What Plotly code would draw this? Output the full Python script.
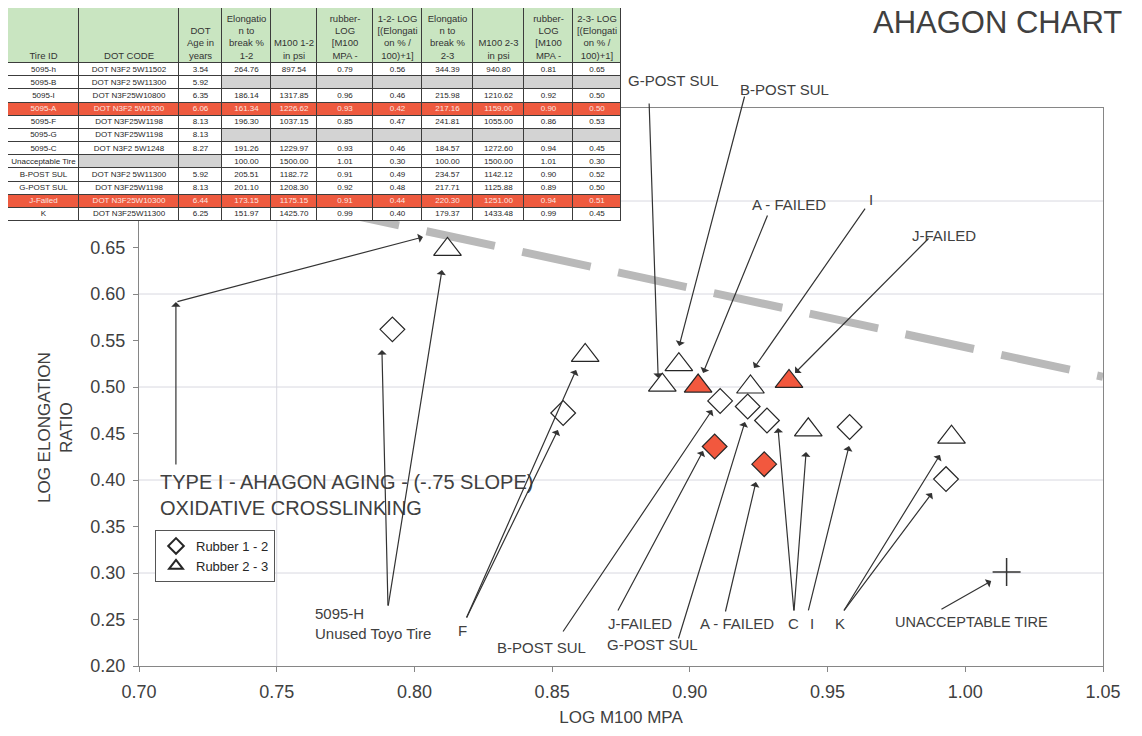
import plotly.graph_objects as go

# the page body adds an 8px margin, so the figure is drawn 8px in from the corner
OFF = 8
W, H = 1142 - OFF, 736 - OFF

# ---- table printed on the sheet ----
header = ["Tire ID", "DOT CODE", "DOT<br>Age in<br>years",
          "Elongatio<br>n to<br>break %<br>1-2", "M100 1-2<br>in psi",
          "rubber-<br>LOG<br>[M100<br>MPA -", "1-2- LOG<br>[(Elongati<br>on % /<br>100)+1]",
          "Elongatio<br>n to<br>break %<br>2-3", "M100 2-3<br>in psi",
          "rubber-<br>LOG<br>[M100<br>MPA -", "2-3- LOG<br>[(Elongati<br>on % /<br>100)+1]"]
tire_id = ["5095-h", "5095-B", "5095-I", "5095-A", "5095-F", "5095-G", "5095-C",
           "Unacceptable Tire", "B-POST SUL", "G-POST SUL", "J-Failed", "K"]
dot_code = ["DOT N3F2 5W11502", "DOT N3F2 5W11300", "DOT N3F25W10800", "DOT N3F2 5W1200",
            "DOT N3F25W1198", "DOT N3F25W1198", "DOT N3F2 5W1248", "",
            "DOT N3F2 5W11300", "DOT N3F25W1198", "DOT N3F25W10300", "DOT N3F25W11300"]
age_years = ["3.54", "5.92", "6.35", "6.06", "8.13", "8.13", "8.27", "", "5.92", "8.13", "6.44", "6.25"]
elong_12 = ["264.76", "", "186.14", "161.34", "196.30", "", "191.26", "100.00", "205.51", "201.10", "173.15", "151.97"]
m100_12 = ["897.54", "", "1317.85", "1226.62", "1037.15", "", "1229.97", "1500.00", "1182.72", "1208.30", "1175.15", "1425.70"]
logm_12 = ["0.79", "", "0.96", "0.93", "0.85", "", "0.93", "1.01", "0.91", "0.92", "0.91", "0.99"]
loge_12 = ["0.56", "", "0.46", "0.42", "0.47", "", "0.46", "0.30", "0.49", "0.48", "0.44", "0.40"]
elong_23 = ["344.39", "", "215.98", "217.16", "241.81", "", "184.57", "100.00", "234.57", "217.71", "220.30", "179.37"]
m100_23 = ["940.80", "", "1210.62", "1159.00", "1055.00", "", "1272.60", "1500.00", "1142.12", "1125.88", "1251.00", "1433.48"]
logm_23 = ["0.81", "", "0.92", "0.90", "0.86", "", "0.94", "1.01", "0.90", "0.89", "0.94", "0.99"]
loge_23 = ["0.65", "", "0.50", "0.50", "0.53", "", "0.45", "0.30", "0.52", "0.50", "0.51", "0.45"]
failed_rows = ["5095-A", "J-Failed"]

# ---- plotted points: H, I, A, F, C, B-POST, G-POST, J, K ----
pt_failed = [False, False, True, False, False, False, False, True, False]
r12_x = [0.792, 0.958, 0.927, 0.854, 0.928, 0.911, 0.921, 0.909, 0.993]
r12_y = [0.562, 0.457, 0.417, 0.472, 0.464, 0.485, 0.479, 0.436, 0.401]
r23_x = [0.812, 0.922, 0.903, 0.862, 0.943, 0.896, 0.890, 0.936, 0.995]
r23_y = [0.648, 0.500, 0.501, 0.534, 0.454, 0.524, 0.502, 0.506, 0.446]
unacc_x = [1.015]
unacc_y = [0.301]
trend_x = [0.70, 1.05]
trend_y = [0.734, 0.511]

FONT = "Liberation Sans, Arial, sans-serif"
TXT = "#404040"
RED = "#F2583E"

def fx(px):
    return (px - OFF) / W

def fy(py):
    return 1 - (py - OFF) / H

fig = go.Figure()

fig.add_trace(go.Scatter(x=trend_x, y=trend_y, mode="lines", showlegend=False,
                         line=dict(color="#b9b9b9", width=8, dash="70px,28px")))
fig.add_trace(go.Scatter(x=r12_x, y=r12_y, mode="markers", name="Rubber 1 - 2",
                         marker=dict(symbol="diamond", size=19,
                                     color=[RED if f else "white" for f in pt_failed],
                                     line=dict(color="#262626", width=1.2))))
fig.add_trace(go.Scatter(x=r23_x, y=r23_y, mode="markers", name="Rubber 2 - 3",
                         marker=dict(symbol="triangle-up", size=24,
                                     color=[RED if f else "white" for f in pt_failed],
                                     line=dict(color="#262626", width=1.2))))
fig.add_trace(go.Scatter(x=unacc_x, y=unacc_y, mode="markers", showlegend=False,
                         marker=dict(symbol="cross-thin", size=20,
                                     line=dict(color="#333333", width=1.5))))

# ---- table drawn on its own axes (page pixel units) ----
col_edges = [8, 79, 179, 222, 271, 317, 373, 422, 473, 524, 573, 621]
row_h = (221 - 63) / 12
row_edges = [8, 63] + [63 + row_h * (i + 1) for i in range(12)]
columns = [tire_id, dot_code, age_years, elong_12, m100_12, logm_12, loge_12,
           elong_23, m100_23, logm_23, loge_23]

z = [[3] * 11]
for i, tid in enumerate(tire_id):
    row = []
    for col in columns:
        if tid in failed_rows:
            row.append(2)
        elif col[i] == "":
            row.append(1)
        else:
            row.append(0)
    z.append(row)

fig.add_trace(go.Heatmap(x=col_edges, y=row_edges, z=z, xaxis="x2", yaxis="y2",
                         zmin=-0.5, zmax=3.5, showscale=False, hoverinfo="skip",
                         xgap=1, ygap=1,
                         colorscale=[[0, "#ffffff"], [0.25, "#ffffff"], [0.25, "#d3d3d3"], [0.5, "#d3d3d3"],
                                     [0.5, "#ee5a3f"], [0.75, "#ee5a3f"], [0.75, "#c9e5c1"], [1, "#c9e5c1"]]))

col_mid = [(col_edges[j] + col_edges[j + 1]) / 2 for j in range(11)]
fig.add_trace(go.Scatter(x=col_mid, y=[61] * 11, text=header, mode="text", xaxis="x2", yaxis="y2",
                         textposition="top center", showlegend=False, hoverinfo="skip",
                         textfont=dict(family=FONT, size=9.5, color="#333333")))
cx, cy, ct, cc = [], [], [], []
for i, tid in enumerate(tire_id):
    for j, col in enumerate(columns):
        if col[i] == "":
            continue
        cx.append(col_mid[j])
        cy.append((row_edges[i + 1] + row_edges[i + 2]) / 2)
        ct.append(col[i])
        cc.append("#fbe6e0" if tid in failed_rows else "#262626")
fig.add_trace(go.Scatter(x=cx, y=cy, text=ct, mode="text", xaxis="x2", yaxis="y2",
                         textposition="middle center", showlegend=False, hoverinfo="skip",
                         textfont=dict(family=FONT, size=8, color=cc)))

shapes = [dict(type="rect", xref="x2", yref="y2", x0=8, x1=621, y0=8, y1=221,
               fillcolor="#3c3c3c", line=dict(width=0), layer="below")]
for gy in [0.3, 0.4, 0.5, 0.6, 0.7]:
    shapes.append(dict(type="line", xref="x", yref="y", x0=0.70, x1=1.05, y0=gy, y1=gy,
                       line=dict(color="#d8d8e0", width=1), layer="below"))
shapes.append(dict(type="line", xref="x", yref="y", x0=0.75, x1=0.75, y0=0.2, y1=0.8,
                   line=dict(color="#d8d8e0", width=1), layer="below"))

ann = [dict(text="AHAGON CHART", x=fx(997), y=fy(22), xref="paper", yref="paper",
            xanchor="center", yanchor="middle", showarrow=False,
            font=dict(size=31, color=TXT, family=FONT)),
       dict(text="LOG ELONGATION<br>RATIO", x=fx(56), y=fy(428), xref="paper", yref="paper",
            xanchor="center", yanchor="middle", textangle=-90, showarrow=False,
            font=dict(size=17, color=TXT, family=FONT))]

# labels above the plot frame sit in page coordinates vertically
for t, x, py in [("G-POST SUL", 0.8939, 81), ("B-POST SUL", 0.9342, 89)]:
    ann.append(dict(text=t, x=x, y=fy(py), xref="x", yref="paper", yanchor="middle",
                    showarrow=False, font=dict(size=15, color=TXT, family=FONT)))

labels = [
    ("A - FAILED", 0.9360, 0.6957, 15), ("I", 0.9658, 0.7011, 15),
    ("J-FAILED", 0.9923, 0.6634, 15), ("F", 0.8176, 0.2387, 15),
    ("B-POST SUL", 0.8463, 0.2194, 15), ("J-FAILED", 0.8819, 0.2462, 15),
    ("G-POST SUL", 0.8866, 0.2226, 15), ("A - FAILED", 0.9171, 0.2462, 15),
    ("C", 0.9378, 0.2462, 15), ("I", 0.9444, 0.2462, 15), ("K", 0.9545, 0.2462, 15),
    ("UNACCEPTABLE TIRE", 1.0021, 0.2473, 14.5),
]
for t, x, y, s in labels:
    ann.append(dict(text=t, x=x, y=y, xref="x", yref="y", showarrow=False,
                    font=dict(size=s, color=TXT, family=FONT)))
ann.append(dict(text="5095-H<br>Unused Toyo Tire", x=0.7632, y=0.2452, xref="x", yref="y",
                xanchor="left", align="left", showarrow=False,
                font=dict(size=15, color=TXT, family=FONT)))
ann.append(dict(text="TYPE I - AHAGON AGING - (-.75 SLOPE)<br>OXIDATIVE CROSSLINKING",
                x=0.7069, y=0.3839, xref="x", yref="y", xanchor="left", align="left",
                showarrow=False, font=dict(size=20, color=TXT, family=FONT)))

arrows = [
    (0.7134, 0.4151, 0.7134, 0.5914), (0.7134, 0.5914, 0.8031, 0.6613),
    (0.7904, 0.2634, 0.7882, 0.5398), (0.7904, 0.2634, 0.8100, 0.6258),
    (0.8187, 0.2505, 0.8521, 0.4538), (0.8187, 0.2505, 0.8587, 0.5183),
    (0.8536, 0.2355, 0.9081, 0.4753), (0.8736, 0.2581, 0.9048, 0.4312),
    (0.8957, 0.2280, 0.9200, 0.4624), (0.9128, 0.2570, 0.9240, 0.3978),
    (0.9378, 0.2581, 0.9320, 0.4559), (0.9378, 0.2581, 0.9422, 0.4301),
    (0.9429, 0.2581, 0.9578, 0.4366), (0.9556, 0.2581, 0.9908, 0.4269),
    (0.9556, 0.2581, 0.9879, 0.3860), (0.9908, 0.2602, 1.0094, 0.2914),
    (0.8852, 0.8065, 0.8885, 0.5097), (0.9200, 0.8140, 0.8961, 0.5441),
    (0.9284, 0.6860, 0.9048, 0.5151), (0.9640, 0.6935, 0.9233, 0.5204),
    (0.9872, 0.6613, 0.9382, 0.5151),
]
for tx, ty, hx, hy in arrows:
    ann.append(dict(text="", x=hx, y=hy, ax=tx, ay=ty, xref="x", yref="y", axref="x", ayref="y",
                    showarrow=True, arrowhead=1, arrowsize=1.3, arrowwidth=1.2,
                    arrowcolor="#333333", standoff=0, startstandoff=0))

fig.update_layout(
    width=W, height=H, margin=dict(l=0, r=0, t=0, b=0, autoexpand=False),
    paper_bgcolor="white", plot_bgcolor="white", hovermode=False,
    font=dict(family=FONT, color=TXT),
    xaxis=dict(domain=[fx(139), fx(1103)], range=[0.70, 1.05], dtick=0.05, tickformat=".2f",
               ticks="outside", ticklen=5, tickcolor="#868686", showline=True, linecolor="#868686",
               mirror=True, showgrid=False, zeroline=False, ticklabelstandoff=4, automargin=False,
               tickfont=dict(size=18, color=TXT),
               title=dict(text="LOG M100 MPA", font=dict(size=17, color=TXT), standoff=10)),
    yaxis=dict(domain=[fy(666), fy(108)], range=[0.20, 0.80], dtick=0.05, tickformat=".2f",
               ticks="outside", ticklen=5, tickcolor="#868686", showline=True, linecolor="#868686",
               mirror=True, showgrid=False, zeroline=False, ticklabelstandoff=4, automargin=False,
               tickfont=dict(size=18, color=TXT)),
    xaxis2=dict(domain=[fx(8), fx(621)], range=[8, 621], visible=False, anchor="y2",
                fixedrange=True, automargin=False),
    yaxis2=dict(domain=[fy(221), fy(8)], range=[221, 8], visible=False, anchor="x2",
                fixedrange=True, automargin=False),
    legend=dict(x=fx(155), y=fy(530), xanchor="left", yanchor="top", bgcolor="white",
                bordercolor="#555555", borderwidth=1, itemsizing="constant",
                font=dict(size=13, color="#262626", family=FONT), tracegroupgap=2),
    shapes=shapes, annotations=ann,
)

fig.write_html("out.html")
